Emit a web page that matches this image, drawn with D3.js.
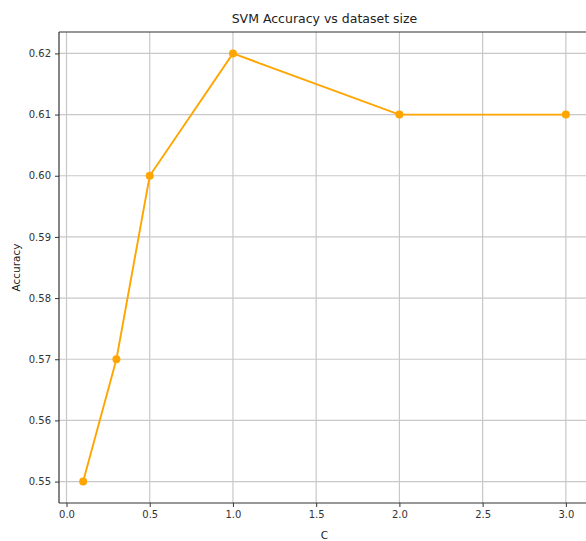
<!DOCTYPE html>
<html><head><meta charset="utf-8">
<script src="https://cdn.jsdelivr.net/npm/d3@7"></script>
<style>body{margin:0;background:#fff}svg{display:block}text{font-family:"DejaVu Sans",sans-serif}</style>
</head><body><svg id="c" width="586" height="541"></svg>
<script>
const cValues = [0.1, 0.3, 0.5, 1.0, 2.0, 3.0];
const accuracy = [0.55, 0.57, 0.60, 0.62, 0.61, 0.61];
const xTicks = [0.0, 0.5, 1.0, 1.5, 2.0, 2.5, 3.0];
const yTicks = [0.55, 0.56, 0.57, 0.58, 0.59, 0.60, 0.61, 0.62];
const title = "SVM Accuracy vs dataset size";
const xLabel = "C";
const yLabel = "Accuracy";

const svg = d3.select("#c");
const L = 59, R = 590, T = 32, B = 503;
const x = d3.scaleLinear().domain([-0.045, 3.145]).range([L, R]);
const y = d3.scaleLinear().domain([0.5465, 0.6235]).range([B, T]);

const g = svg.append("g");
// grid
g.selectAll(".gx").data(xTicks).join("line")
  .attr("x1", d => x(d)).attr("x2", d => x(d)).attr("y1", T).attr("y2", B)
  .attr("stroke", "#c8c8c8").attr("stroke-width", 1.2);
g.selectAll(".gy").data(yTicks).join("line")
  .attr("y1", d => y(d)).attr("y2", d => y(d)).attr("x1", L).attr("x2", R)
  .attr("stroke", "#c8c8c8").attr("stroke-width", 1.2);

// axes
const xa = svg.append("g").attr("transform", `translate(0,${B})`)
  .call(d3.axisBottom(x).tickValues(xTicks).tickFormat(d3.format(".1f")).tickSize(4).tickPadding(4));
const ya = svg.append("g").attr("transform", `translate(${L},0)`)
  .call(d3.axisLeft(y).tickValues(yTicks).tickFormat(d3.format(".2f")).tickSize(4).tickPadding(4));
[xa, ya].forEach(a => {
  a.select(".domain").remove();
  a.selectAll("line").attr("stroke", "#333");
  a.selectAll("text").attr("fill", "#333").style("font-size", "10px").style("font-family", "DejaVu Sans");
});
// spines
svg.append("line").attr("x1", L).attr("x2", L).attr("y1", T).attr("y2", B).attr("stroke", "#333").attr("stroke-width", 1.2);
svg.append("line").attr("x1", L).attr("x2", R).attr("y1", B).attr("y2", B).attr("stroke", "#333").attr("stroke-width", 1.2);
svg.append("line").attr("x1", L).attr("x2", R).attr("y1", T).attr("y2", T).attr("stroke", "#333").attr("stroke-width", 1.2);

const pts = cValues.map((c, i) => [c, accuracy[i]]);
svg.append("path").datum(pts)
  .attr("d", d3.line().x(d => x(d[0])).y(d => y(d[1])))
  .attr("fill", "none").attr("stroke", "#FFA500").attr("stroke-width", 1.9);
svg.selectAll(".pt").data(pts).join("circle")
  .attr("cx", d => x(d[0])).attr("cy", d => y(d[1])).attr("r", 4).attr("fill", "#FFA500");

svg.append("text").attr("x", (L + R) / 2).attr("y", 23).attr("text-anchor", "middle")
  .style("font-size", "12.5px").attr("fill", "#222").text(title);
svg.append("text").attr("x", (L + R) / 2).attr("y", 539).attr("text-anchor", "middle")
  .style("font-size", "10.5px").attr("fill", "#222").text(xLabel);
svg.append("text").attr("transform", `translate(20,${(T + B) / 2}) rotate(-90)`).attr("text-anchor", "middle")
  .style("font-size", "10.5px").attr("fill", "#222").text(yLabel);
</script></body></html>
